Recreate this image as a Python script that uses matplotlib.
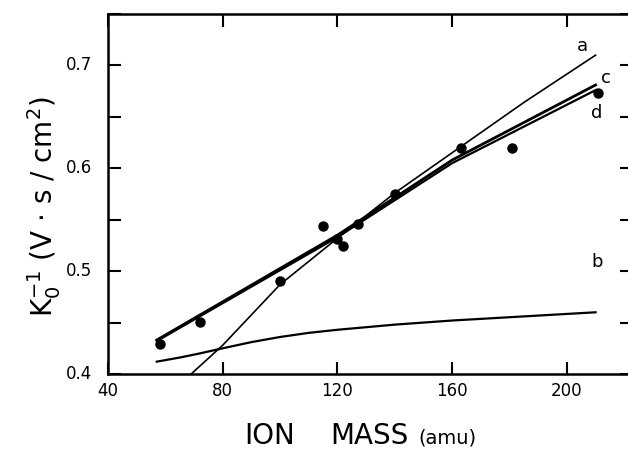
import matplotlib
matplotlib.use("Agg")
import matplotlib.pyplot as plt
from matplotlib.ticker import MultipleLocator

# measured points
mass = [58, 72, 100, 115, 120, 122, 127, 140, 163, 181, 211]
k_inv = [0.429, 0.451, 0.490, 0.544, 0.531, 0.524, 0.546, 0.575, 0.620, 0.620, 0.673]

# curves
x_a = [69, 80, 100, 120, 140, 163, 185, 210]
y_a = [0.400, 0.428, 0.487, 0.532, 0.576, 0.621, 0.664, 0.710]
x_b = [57, 65, 72, 80, 90, 100, 110, 120, 140, 160, 185, 210]
y_b = [0.412, 0.416, 0.420, 0.425, 0.431, 0.436, 0.440, 0.443, 0.448, 0.452, 0.456, 0.460]
x_c = [57, 120, 160, 210]
y_c = [0.433, 0.535, 0.608, 0.681]
x_d = [57, 120, 160, 210]
y_d = [0.432, 0.533, 0.605, 0.676]

fig = plt.figure(figsize=(6.28, 4.49), dpi=100)
ax = fig.add_axes([108/628, 75/449, 524/628, 360/449])

ax.plot(x_a, y_a, color='black', lw=1.2)
ax.plot(x_b, y_b, color='black', lw=1.6)
ax.plot(x_c, y_c, color='black', lw=2.0)
ax.plot(x_d, y_d, color='black', lw=1.6)
ax.plot(mass, k_inv, 'o', color='black', ms=6.5, clip_on=False)

ax.text(205.5, 0.719, 'a', fontsize=13, ha='center', va='center')
ax.text(213.5, 0.688, 'c', fontsize=13, ha='center', va='center')
ax.text(210.5, 0.654, 'd', fontsize=13, ha='center', va='center')
ax.text(210.5, 0.509, 'b', fontsize=13, ha='center', va='center')

ax.set_xlim(40, 222.7)
ax.set_ylim(0.4, 0.75)
ax.yaxis.set_minor_locator(MultipleLocator(0.05))
ax.tick_params(which='both', direction='in', top=True, right=True,
               length=9, width=1.5, labelsize=12, pad=6)
ax.set_xticks([40, 80, 120, 160, 200])
ax.set_xticklabels(['40', '80', '120', '160', '200'])
ax.set_yticks([0.4, 0.5, 0.6, 0.7])
ax.tick_params(axis='y', labelleft=False)
for v in [0.4, 0.5, 0.6, 0.7]:
    ax.text(-0.03, (v - 0.4) / 0.35, '%.1f' % v, transform=ax.transAxes,
            ha='right', va='center', fontsize=12)
for s in ax.spines.values():
    s.set_linewidth(1.8)

fig.text(44/628, 1 - 207/449,
         r'$\mathregular{K_0^{-1}}$ (V $\cdot$ s / cm$^\mathregular{2}$)',
         rotation=90, ha='center', va='center', fontsize=20)
fig.text(270/628, 5/449, 'ION', ha='center', va='baseline', fontsize=20)
fig.text(369/628, 5/449, 'MASS', ha='center', va='baseline', fontsize=20)
fig.text(447/628, 5/449, '(amu)', ha='center', va='baseline', fontsize=14)

fig.savefig('out.png', dpi=100)
